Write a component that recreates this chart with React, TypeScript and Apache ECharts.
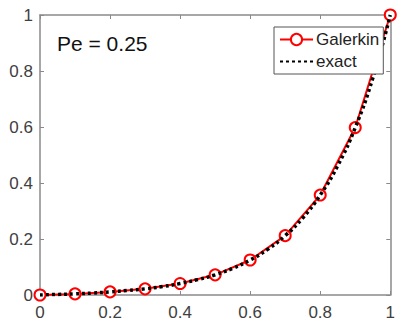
import React, { useEffect, useRef } from "react";
import * as echarts from "echarts";

const galerkinX = [0, 0.1, 0.2, 0.3, 0.4, 0.5, 0.6, 0.7, 0.8, 0.9, 1.0];
const galerkinY = [0, 0.004, 0.011, 0.022, 0.041, 0.072, 0.125, 0.212, 0.357, 0.598, 1.0];

const exactX = [0, 0.05, 0.1, 0.15, 0.2, 0.25, 0.3, 0.35, 0.4, 0.45, 0.5, 0.55, 0.6, 0.65, 0.7, 0.75, 0.8, 0.85, 0.9, 0.95, 1.0];
const exactY = [0, 0.002, 0.004, 0.007, 0.011, 0.016, 0.022, 0.03, 0.041, 0.055, 0.072, 0.095, 0.125, 0.163, 0.212, 0.275, 0.357, 0.462, 0.598, 0.774, 1.0];

const titleText = "Pe = 0.25";

export default function App() {
  const ref = useRef<HTMLDivElement>(null);
  useEffect(() => {
    if (!ref.current) return;
    const chart = echarts.init(ref.current, null, { renderer: "svg" });
    const axisColor = "#8a8a8a";
    const labelColor = "#404040";
    const font = "Liberation Sans";
    const baseAxis = {
      type: "value" as const,
      min: 0,
      max: 1,
      interval: 0.2,
      splitLine: { show: false },
      axisLine: { show: true, onZero: false, lineStyle: { color: axisColor, width: 1.5 } },
      axisTick: { show: true, inside: true, length: 4, lineStyle: { color: axisColor } },
    };
    chart.setOption({
      animation: false,
      backgroundColor: "#fff",
      grid: { left: 40, right: 5, top: 15, bottom: 32 },
      xAxis: [
        {
          ...baseAxis,
          position: "bottom",
          axisLabel: { color: labelColor, fontSize: 17, fontFamily: font, margin: 9 },
        },
        {
          ...baseAxis,
          position: "top",
          axisLabel: { show: false },
        },
      ],
      yAxis: [
        {
          ...baseAxis,
          position: "left",
          axisLabel: { color: labelColor, fontSize: 17, fontFamily: font, margin: 7 },
        },
        {
          ...baseAxis,
          position: "right",
          axisLabel: { show: false },
        },
      ],
      legend: {
        left: 274,
        top: 27,
        orient: "vertical",
        itemWidth: 33,
        itemHeight: 14,
        itemGap: 5,
        padding: [4, 4, 4, 5],
        borderColor: "#555",
        borderWidth: 1,
        backgroundColor: "#fff",
        textStyle: { color: "#222", fontSize: 17, fontFamily: font, padding: [0, 0, 0, -2] },
        data: ["Galerkin", { name: "exact", itemStyle: { opacity: 0 } }],
      },
      graphic: [
        {
          type: "text",
          left: 57,
          top: 33,
          style: { text: titleText, fontSize: 21, fontFamily: font, fill: "#111" },
        },
      ],
      series: [
        {
          name: "Galerkin",
          type: "line",
          data: galerkinX.map((x, i) => [x, galerkinY[i]]),
          symbol: "circle",
          symbolSize: 11,
          itemStyle: { color: "#fff", borderColor: "#ff0000", borderWidth: 2 },
          lineStyle: { color: "#ff0000", width: 2 },
          z: 2,
        },
        {
          name: "exact",
          type: "line",
          data: exactX.map((x, i) => [x, exactY[i]]),
          showSymbol: false,
          symbol: "none",
          smooth: true,
          itemStyle: { color: "#000" },
          lineStyle: { color: "#000", width: 3.5, type: [3, 3] },
          z: 3,
        },
      ],
    });
    return () => chart.dispose();
  }, []);
  return <div ref={ref} style={{ width: 398, height: 327, position: "absolute", left: 0, top: 0 }} />;
}
